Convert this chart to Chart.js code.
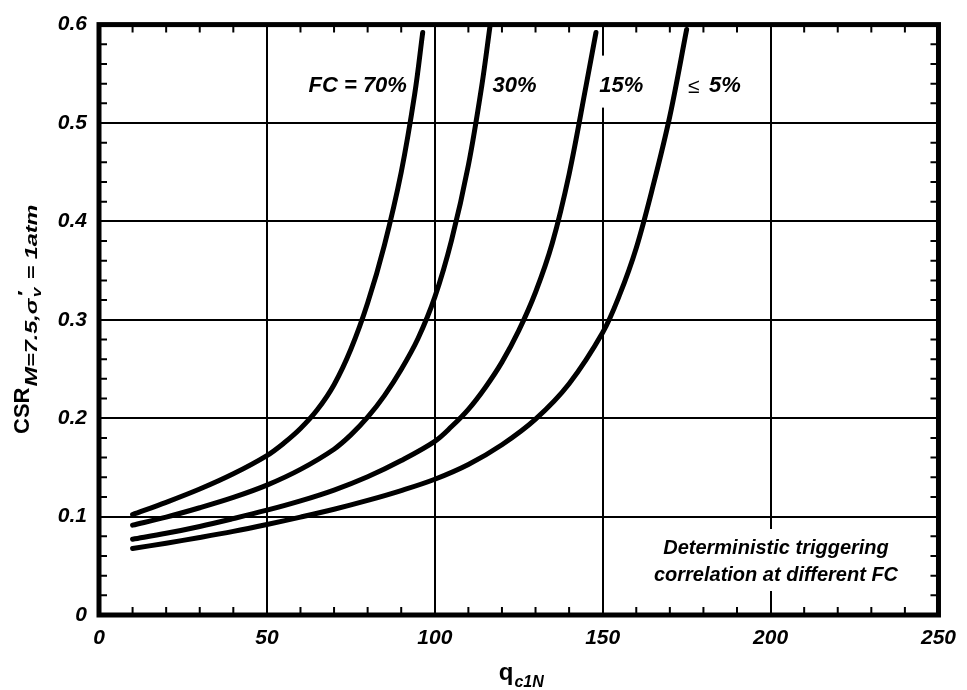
<!DOCTYPE html>
<html>
<head>
<meta charset="utf-8">
<script src="https://cdn.jsdelivr.net/npm/chart.js@4.4.1/dist/chart.umd.min.js"></script>
<style>
  html, body { margin: 0; padding: 0; background: #fff; }
</style>
</head>
<body>
<canvas id="csrChart" width="967" height="690"></canvas>
<script>
// values
const qFC70 = [10, 20, 30, 40, 50, 55, 60, 65, 70, 75, 80, 85, 90, 94, 96.4];
const csrFC70 = [0.102, 0.1145, 0.128, 0.1435, 0.162, 0.1745, 0.1895, 0.2085, 0.234, 0.27, 0.317, 0.376, 0.45, 0.529, 0.592];

const qFC30 = [10, 20, 30, 40, 50, 60, 70, 75, 80, 85, 90, 95, 100, 105, 110, 114, 116.5];
const csrFC30 = [0.0913, 0.0995, 0.109, 0.1195, 0.132, 0.148, 0.1685, 0.183, 0.201, 0.223, 0.2495, 0.281, 0.323, 0.381, 0.457, 0.538, 0.6];

const qFC15 = [10, 20, 30, 40, 50, 60, 70, 80, 90, 100, 105, 110, 115, 120, 125, 130, 135, 140, 145, 148];
const csrFC15 = [0.077, 0.083, 0.090, 0.098, 0.1065, 0.116, 0.127, 0.1405, 0.157, 0.1765, 0.1915, 0.209, 0.231, 0.257, 0.289, 0.328, 0.378, 0.448, 0.537, 0.592];

const qFC5 = [10, 20, 30, 40, 50, 60, 70, 80, 90, 100, 110, 120, 130, 140, 150, 155, 160, 165, 170, 175];
const csrFC5 = [0.0675, 0.073, 0.0788, 0.085, 0.092, 0.0995, 0.1075, 0.1165, 0.1265, 0.138, 0.153, 0.173, 0.199, 0.235, 0.287, 0.325, 0.373, 0.436, 0.507, 0.595];

const seriesNames = ['FC = 70%', '30%', '15%', '≤ 5%'];
const xTicks = [0, 50, 100, 150, 200, 250];
const yTicks = [0, 0.1, 0.2, 0.3, 0.4, 0.5, 0.6];

const FONT = '"Liberation Sans", Arial, sans-serif';

function pts(xs, ys) {
  return xs.map((x, i) => ({ x, y: ys[i] }));
}

function curve(label, xs, ys) {
  return {
    label,
    data: pts(xs, ys),
    borderColor: '#000',
    borderWidth: 5,
    pointRadius: 0,
    fill: false,
    tension: 0.35,
    borderCapStyle: 'round',
    borderJoinStyle: 'round'
  };
}

const decor = {
  id: 'decor',
  afterDraw(chart) {
    const c = chart.ctx;
    const xs = chart.scales.x;
    const ys = chart.scales.y;
    const a = chart.chartArea;

    // minor ticks inside the frame
    c.save();
    c.strokeStyle = '#000';
    c.lineWidth = 2;
    c.beginPath();
    for (let q = 10; q < 250; q += 10) {
      if (q % 50 === 0) continue;
      const px = xs.getPixelForValue(q);
      c.moveTo(px, a.bottom); c.lineTo(px, a.bottom - 8);
      c.moveTo(px, a.top); c.lineTo(px, a.top + 8);
    }
    for (let k = 1; k < 30; k++) {
      if (k % 5 === 0) continue;
      const py = ys.getPixelForValue(k * 0.02);
      c.moveTo(a.left, py); c.lineTo(a.left + 8, py);
      c.moveTo(a.right, py); c.lineTo(a.right - 8, py);
    }
    c.stroke();

    // frame
    c.lineWidth = 5;
    c.strokeRect(a.left, a.top, a.right - a.left, a.bottom - a.top);

    // curve labels
    c.textBaseline = 'middle';
    const ly = ys.getPixelForValue(0.538);
    function boxed(text, x, align, font) {
      c.font = font;
      const w = c.measureText(text).width;
      const left = align === 'right' ? x - w : x;
      c.fillStyle = '#fff';
      c.fillRect(left - 2, ly - 30, w + 4, 52);
      c.fillStyle = '#000';
      c.textAlign = 'left';
      c.fillText(text, left, ly);
      return w;
    }
    const lf = 'italic bold 22px ' + FONT;
    boxed(seriesNames[0], xs.getPixelForValue(91.7), 'right', lf);
    boxed(seriesNames[1], xs.getPixelForValue(117.2), 'left', lf);
    boxed(seriesNames[2], xs.getPixelForValue(149), 'left', lf);
    c.font = '21px ' + FONT;
    c.fillStyle = '#000';
    c.textAlign = 'left';
    const lx = xs.getPixelForValue(175.4);
    c.fillText('≤', lx, ly + 2);
    c.font = lf;
    c.fillText('5%', lx + 21, ly);

    // note box
    c.font = 'italic bold 20px ' + FONT;
    c.textAlign = 'center';
    const nx = 776;
    c.fillStyle = '#fff';
    c.fillRect(628, 529, 292, 62);
    c.fillStyle = '#000';
    c.fillText('Deterministic triggering', nx, 548);
    c.fillText('correlation at different FC', nx, 575);

    // x title
    c.textBaseline = 'alphabetic';
    c.textAlign = 'left';
    c.font = 'bold 24px ' + FONT;
    const qw = c.measureText('q').width;
    c.font = 'italic bold 16px ' + FONT;
    const sw = c.measureText('c1N').width;
    const x0 = (a.left + a.right) / 2 - (qw + sw) / 2 + 2;
    c.font = 'bold 24px ' + FONT;
    c.fillText('q', x0, 680);
    c.font = 'italic bold 16px ' + FONT;
    c.fillText('c1N', x0 + qw + 1, 687);

    // y title, rotated
    c.translate(29, 434);
    c.rotate(-Math.PI / 2);
    c.font = 'bold 22px ' + FONT;
    c.fillText('CSR', 0, 0);
    const cw = c.measureText('CSR').width;
    const subFont = 'italic bold 16px ' + FONT;
    const smallFont = 'italic bold 12px ' + FONT;
    c.font = subFont;
    const w1 = c.measureText('M=7.5,σ').width;
    const wp = c.measureText('′').width;
    const w3 = c.measureText(' = 1atm').width;
    c.font = smallFont;
    const wv = c.measureText('v').width;
    const total = w1 + Math.max(wp, wv) + 2 + w3;
    const k = 182 / total;
    c.translate(cw + 1, 0);
    c.scale(k, 1);
    c.font = subFont;
    c.fillText('M=7.5,σ', 0, 8);
    c.fillText('′', w1 + 1, 1);
    c.font = smallFont;
    c.fillText('v', w1 + 1, 12);
    c.font = subFont;
    c.fillText(' = 1atm', w1 + Math.max(wp, wv) + 2, 8);
    c.restore();
  }
};

new Chart(document.getElementById('csrChart'), {
  type: 'line',
  data: {
    datasets: [
      curve(seriesNames[0], qFC70, csrFC70),
      curve(seriesNames[1], qFC30, csrFC30),
      curve(seriesNames[2], qFC15, csrFC15),
      curve(seriesNames[3], qFC5, csrFC5)
    ]
  },
  options: {
    responsive: false,
    animation: false,
    devicePixelRatio: 1,
    layout: { padding: { top: 18, right: 26, left: 0, bottom: 0 } },
    plugins: {
      legend: { display: false },
      tooltip: { enabled: false }
    },
    scales: {
      x: {
        type: 'linear',
        min: 0,
        max: 250,
        afterBuildTicks: s => { s.ticks = xTicks.map(v => ({ value: v })); },
        afterFit: s => { s.height = 75; },
        ticks: {
          color: '#000',
          padding: 11,
          maxRotation: 0,
          font: { family: FONT, size: 21, style: 'italic', weight: 'bold' }
        },
        grid: { color: '#000', lineWidth: 2, drawTicks: false },
        border: { display: false }
      },
      y: {
        type: 'linear',
        min: 0,
        max: 0.6,
        afterBuildTicks: s => { s.ticks = yTicks.map(v => ({ value: v })); },
        afterFit: s => { s.width = 99; },
        ticks: {
          color: '#000',
          padding: 12,
          font: { family: FONT, size: 21, style: 'italic', weight: 'bold' }
        },
        grid: { color: '#000', lineWidth: 2, drawTicks: false },
        border: { display: false }
      }
    }
  },
  plugins: [decor]
});
</script>
</body>
</html>
